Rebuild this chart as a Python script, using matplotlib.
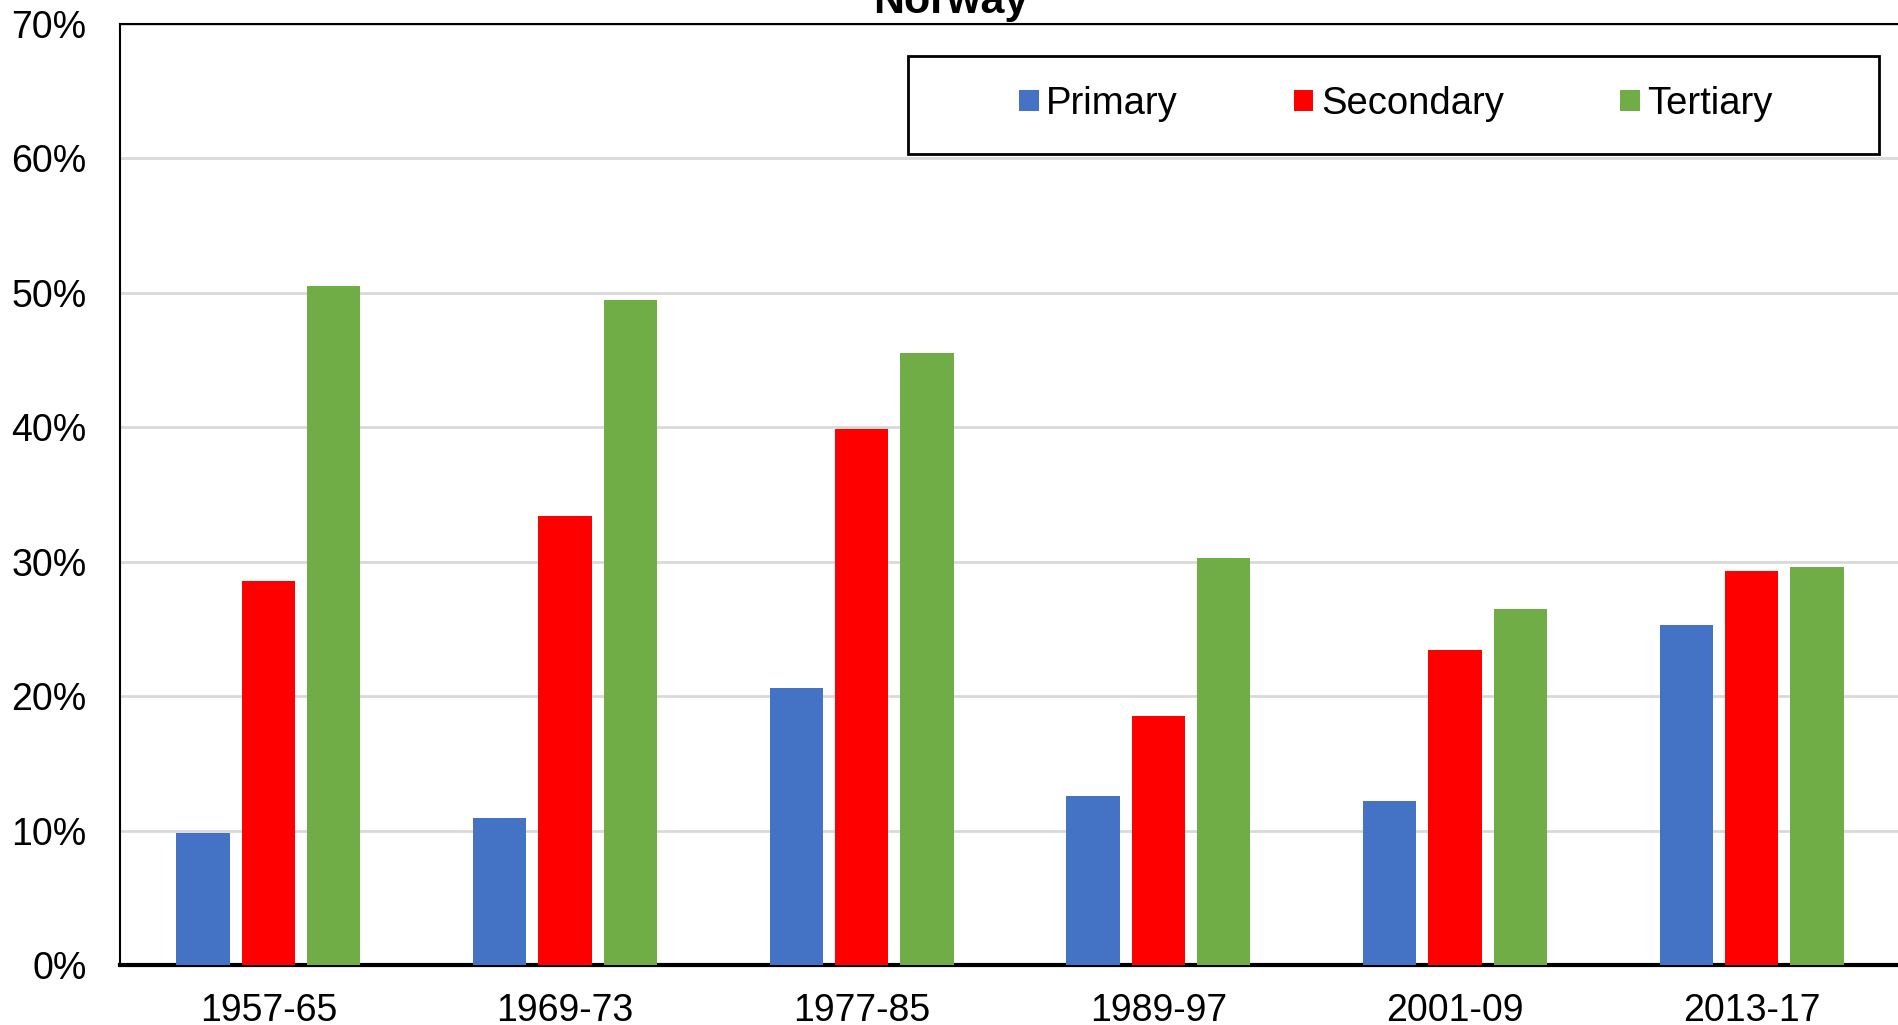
import numpy as np
import matplotlib
matplotlib.use("Agg")
import matplotlib.pyplot as plt
from matplotlib.patches import Rectangle, Patch
from matplotlib.ticker import PercentFormatter

plt.rcParams['font.family'] = ['Liberation Sans', 'DejaVu Sans']

# ---------------- DATA ----------------
periods = ["1957-65", "1969-73", "1977-85", "1989-97", "2001-09", "2013-17"]
primary = [9.8, 10.9, 20.6, 12.6, 12.2, 25.3]
secondary = [28.6, 33.4, 39.9, 18.5, 23.4, 29.3]
tertiary = [50.5, 49.5, 45.5, 30.3, 26.5, 29.6]

series_names = ["Primary", "Secondary", "Tertiary"]
colors = ["#4472C4", "#FF0000", "#70AD47"]

# ---------------- FIGURE ----------------
W, H = 1898, 1025
fig = plt.figure(figsize=(W / 100, H / 100), dpi=100)
ax = fig.add_axes([120 / W, 1 - 965 / H, 1780 / W, (965 - 24) / H])

x = np.arange(len(periods))
bw = 0.18
step = 0.22
for k, (vals, c) in enumerate(zip([primary, secondary, tertiary], colors)):
    ax.bar(x + (k - 1) * step, vals, width=bw, color=c, zorder=3)

ax.set_xlim(-0.5, len(periods) - 0.5)
ax.set_ylim(0, 70)
ax.set_yticks(np.arange(0, 71, 10))
ax.yaxis.set_major_formatter(PercentFormatter(decimals=0))
ax.set_xticks(x)
ax.set_xticklabels(periods)
ax.tick_params(axis='both', length=0, labelsize=27)
ax.tick_params(axis='y', pad=24)
ax.tick_params(axis='x', pad=20)

ax.grid(axis='y', color='#d9d9d9', lw=2, zorder=0)
ax.spines['left'].set_linewidth(1.5)
ax.spines['top'].set_linewidth(1.5)
ax.spines['right'].set_visible(False)
ax.spines['bottom'].set_linewidth(3)
for s in ax.spines.values():
    s.set_color('black')

# title (partly cut at the top)
fig.text(951 / W, 1 - 13 / H, "Norway", ha='center', va='baseline',
         fontsize=31, fontweight='bold')

# ---------------- LEGEND ----------------
box = Rectangle((908 / W, 1 - 154 / H), 971 / W, 98 / H,
                transform=fig.transFigure, fill=True, facecolor='white',
                edgecolor='black', lw=2, zorder=5)
fig.patches.append(box)

handles = [Patch(facecolor=c, edgecolor='none') for c in colors]
leg = fig.legend(handles, series_names, loc='center',
                 bbox_to_anchor=(1396 / W, 1 - 104 / H),
                 bbox_transform=fig.transFigure, ncol=3, frameon=False,
                 fontsize=27.5, handlelength=0.5, handleheight=0.5,
                 handletextpad=0.2, columnspacing=3.05)
leg.set_zorder(6)

fig.savefig("out.png", dpi=100)
